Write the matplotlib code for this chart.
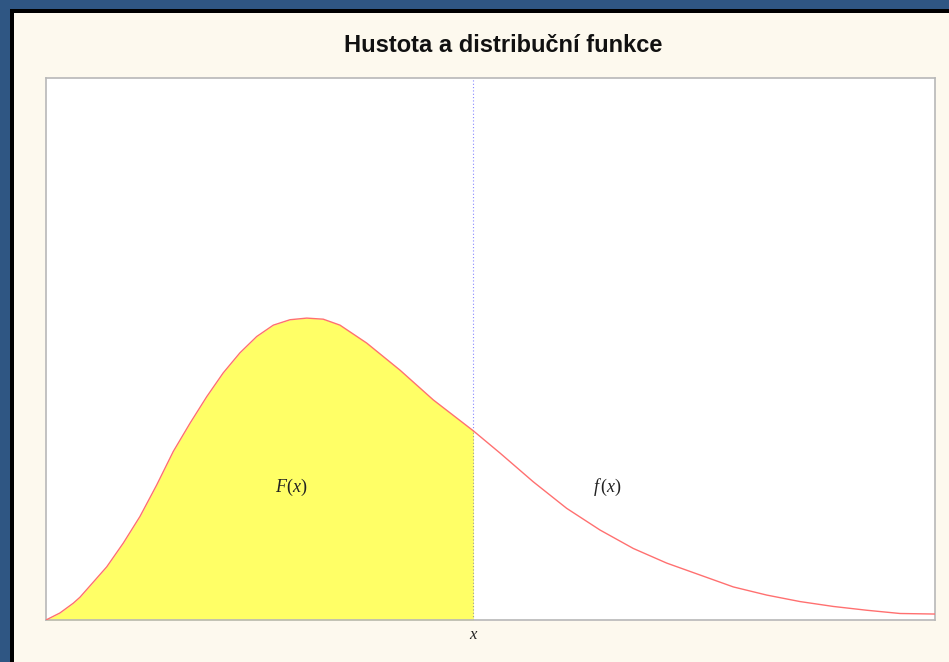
import matplotlib
matplotlib.use("Agg")
import matplotlib.pyplot as plt
from matplotlib.patches import Rectangle
import numpy as np

# Data (arbitrary units)
x_vals = [0.0, 0.157, 0.307, 0.382, 0.495, 0.683, 0.870, 1.057, 1.245, 1.432,
          1.620, 1.808, 1.994, 2.182, 2.370, 2.557, 2.745, 2.933, 3.119, 3.307,
          3.607, 3.982, 4.357, 4.807, 5.107, 5.481, 5.857, 6.232, 6.606, 6.982,
          7.357, 7.732, 8.107, 8.482, 8.856, 9.232, 9.606, 10.0]
density = [0.0, 0.013, 0.031, 0.042, 0.063, 0.098, 0.142, 0.191, 0.249, 0.311,
           0.363, 0.412, 0.456, 0.493, 0.523, 0.544, 0.554, 0.557, 0.555, 0.544,
           0.511, 0.461, 0.406, 0.349, 0.308, 0.255, 0.206, 0.166, 0.132, 0.105,
           0.083, 0.061, 0.046, 0.034, 0.025, 0.018, 0.012, 0.011]
x_cut = 4.807
y_cut = 0.349
title = "Hustota a distribuční funkce"
label_F = "$F(x)$"
label_f = "$f\\,(x)$"
tick_label = "x"

plt.rcParams["mathtext.fontset"] = "custom"
plt.rcParams["mathtext.it"] = "Liberation Serif:italic"
plt.rcParams["mathtext.rm"] = "Liberation Serif"

W, H = 949, 662
fig = plt.figure(figsize=(W / 100, H / 100), dpi=100)
fig.patch.set_facecolor("#2f5683")
fig.patches.append(Rectangle((10 / W, 0), 1, (H - 9) / H, transform=fig.transFigure,
                             facecolor="black", edgecolor="none", zorder=-10))
fig.patches.append(Rectangle((14 / W, 0), 1, (H - 13) / H, transform=fig.transFigure,
                             facecolor="#fdf9ee", edgecolor="none", zorder=-9))

ax = fig.add_axes([46 / W, 42 / H, 889 / W, 542 / H])
ax.set_zorder(5)
ax.set_facecolor("white")
xs = np.array(x_vals)
ys = np.array(density)
mask = xs <= x_cut + 1e-9
ax.fill_between(xs[mask], 0, ys[mask], color="#ffff66", linewidth=0, zorder=1)
ax.plot(xs, ys, color="#ff7070", lw=1.0, zorder=3)
ax.plot([x_cut, x_cut], [y_cut, 1.0], color="#8888ff", lw=0.8,
        linestyle=(0, (1, 2)), zorder=2)
ax.plot([x_cut, x_cut], [0, y_cut], color="#999999", lw=0.8,
        linestyle=(0, (1, 2)), zorder=2)

ax.set_xlim(0, 10)
ax.set_ylim(0, 1)
ax.set_yticks([])
ax.set_xticks([x_cut])
ax.set_xticklabels([tick_label], fontfamily="Liberation Serif", fontstyle="italic",
                   fontsize=12, color="#222222")
ax.tick_params(axis="x", length=0, pad=5)
for s in ax.spines.values():
    s.set_color("#b8b8b8")
    s.set_linewidth(1.2)

ax.text(2.76, 0.244, label_F, ha="center", va="center", fontsize=13, color="#222222")
ax.text(6.31, 0.244, label_f, ha="center", va="center", fontsize=13, color="#222222")

fig.text(503 / W, 1 - 45 / H, title, ha="center", va="center",
         fontfamily="Liberation Sans", fontweight="bold", fontsize=17, color="#111111")

fig.savefig("out.png", dpi=100, facecolor=fig.get_facecolor())
